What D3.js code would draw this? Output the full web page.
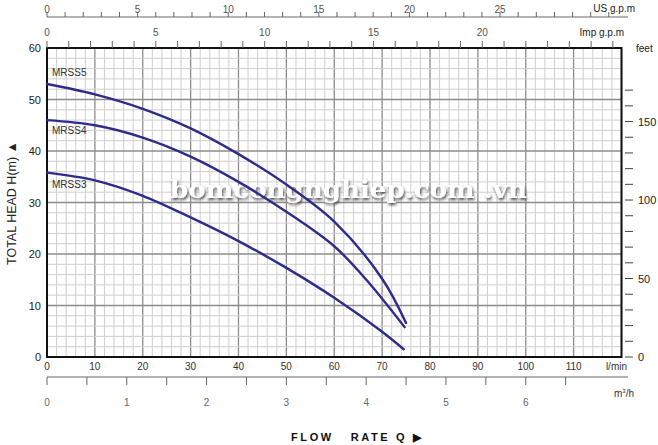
<!DOCTYPE html>
<html>
<head>
<meta charset="utf-8">
<script src="https://cdn.jsdelivr.net/npm/d3@7"></script>
<style>
  body { margin: 0; background: #fff; }
  svg { display: block; font-family: "Liberation Sans", Arial, sans-serif; }
</style>
</head>
<body>
<div class="graph"></div>
<script>
// pump curves, flow in l/min, head in m
var mrss5 = [[0,53],[10,51],[20,48.2],[30,44.4],[40,39.4],[50,33.5],[60,26.3],[70,15.2],[75,6.6]];
var mrss4 = [[0,46],[10,45],[20,42.6],[30,38.9],[40,34],[50,28.2],[60,21.5],[66.7,15],[74.7,5.8]];
var mrss3 = [[0,35.8],[10,34.3],[20,31.3],[30,27.1],[40,22.5],[50,17.3],[60,11.5],[70,4.9],[74.5,1.5]];
var seriesNames = ["MRSS5", "MRSS4", "MRSS3"];
var labelHeads = [54.5, 43.3, 32.8];

var lpmTicks = d3.range(0, 111, 10);
var headTicks = d3.range(0, 61, 10);
var feetTicks = d3.range(0, 171, 10);
var feetLabels = [0, 50, 100, 150];
var usTicks = d3.range(0, 32, 1);
var usLabels = [0, 5, 10, 15, 20, 25];
var impTicks = d3.range(0, 27, 1);
var impLabels = [0, 5, 10, 15, 20];
var m3hTicks = d3.range(0, 6.6, 0.5);
var m3hLabels = [0, 1, 2, 3, 4, 5, 6];

var W = 658, H = 445;
var plotL = 47, plotR = 621.5, plotT = 48, plotB = 357;

var x = d3.scaleLinear().domain([0, 120]).range([plotL, plotR]);
var y = d3.scaleLinear().domain([0, 60]).range([plotB, plotT]);
var yFeet = d3.scaleLinear().domain([0, 60 / 0.3048]).range([plotB, plotT]);
var xUS = d3.scaleLinear().domain([0, 120 / 3.78541]).range([plotL, plotR]);
var xImp = d3.scaleLinear().domain([0, 120 / 4.54609]).range([plotL, plotR]);
var xM3 = d3.scaleLinear().domain([0, 120 / 16.6667]).range([plotL, plotR]);

var svg = d3.select(".graph").append("svg")
    .attr("width", W)
    .attr("height", H);

var defs = svg.append("defs");
var shadow = defs.append("filter").attr("id", "shadow")
    .attr("x", "-10%").attr("y", "-40%").attr("width", "120%").attr("height", "180%");
shadow.append("feDropShadow")
    .attr("dx", 1).attr("dy", 2).attr("stdDeviation", 1.5)
    .attr("flood-color", "#444").attr("flood-opacity", 1);

// grid
var grid = svg.append("g");
grid.selectAll(".vgrid").data(d3.range(0, 121, 2)).enter().append("line")
    .attr("class", "vgrid")
    .attr("x1", d => x(d)).attr("x2", d => x(d))
    .attr("y1", plotT).attr("y2", plotB)
    .attr("stroke", d => d % 10 === 0 ? "#8c8c8c" : "#cfcfcf")
    .attr("stroke-width", d => d % 10 === 0 ? 1.3 : 1);
grid.selectAll(".hgrid").data(d3.range(0, 61, 2)).enter().append("line")
    .attr("class", "hgrid")
    .attr("y1", d => y(d)).attr("y2", d => y(d))
    .attr("x1", plotL).attr("x2", plotR)
    .attr("stroke", d => d % 10 === 0 ? "#8c8c8c" : "#cfcfcf")
    .attr("stroke-width", d => d % 10 === 0 ? 1.3 : 1);

svg.append("rect")
    .attr("x", plotL).attr("y", plotT)
    .attr("width", plotR - plotL).attr("height", plotB - plotT)
    .attr("fill", "none").attr("stroke", "#111").attr("stroke-width", 2);

// watermark
svg.append("text")
    .attr("x", 170).attr("y", 198)
    .attr("textLength", 357).attr("lengthAdjust", "spacingAndGlyphs")
    .attr("font-family", "'DejaVu Serif', 'Liberation Serif', serif")
    .attr("font-weight", "bold")
    .attr("font-size", 25)
    .attr("fill", "#fff")
    .attr("filter", "url(#shadow)")
    .text("bomcongnghiep.com .vn");

// curves
var line = d3.line()
    .x(d => x(d[0])).y(d => y(d[1]))
    .curve(d3.curveCatmullRom.alpha(0.5));

svg.selectAll(".curve").data([mrss5, mrss4, mrss3]).enter().append("path")
    .attr("class", "curve")
    .attr("d", line)
    .attr("fill", "none")
    .attr("stroke", "#2e2b8a")
    .attr("stroke-width", 2.4)
    .attr("stroke-linecap", "round");

svg.selectAll(".slabel").data(seriesNames).enter().append("text")
    .attr("class", "slabel")
    .attr("x", 52)
    .attr("y", (d, i) => y(labelHeads[i]))
    .attr("font-size", 10)
    .attr("fill", "#333")
    .text(d => d);

// left axis
svg.selectAll(".ylab").data(headTicks).enter().append("text")
    .attr("class", "ylab")
    .attr("x", 41).attr("y", d => y(d) + 4)
    .attr("text-anchor", "end")
    .attr("font-size", 11).attr("fill", "#222")
    .text(d => d);

svg.append("text")
    .attr("transform", "translate(16,203) rotate(-90)")
    .attr("text-anchor", "middle")
    .attr("font-size", 12.5).attr("fill", "#222")
    .text("TOTAL HEAD H(m) \u25B2");

// right feet axis
svg.selectAll(".ftick").data(feetTicks).enter().append("line")
    .attr("class", "ftick")
    .attr("x1", 625).attr("x2", 633)
    .attr("y1", d => yFeet(d)).attr("y2", d => yFeet(d))
    .attr("stroke", "#444").attr("stroke-width", 1);
svg.selectAll(".flab").data(feetLabels).enter().append("text")
    .attr("class", "flab")
    .attr("x", 638).attr("y", d => yFeet(d) + 4)
    .attr("font-size", 11).attr("fill", "#222")
    .text(d => d);
svg.append("text")
    .attr("x", 636).attr("y", 52)
    .attr("font-size", 10).attr("fill", "#222")
    .text("feet");

// bottom l/min labels
svg.selectAll(".xlab").data(lpmTicks).enter().append("text")
    .attr("class", "xlab")
    .attr("x", d => x(d)).attr("y", 370)
    .attr("text-anchor", "middle")
    .attr("font-size", 10).attr("fill", "#333")
    .text(d => d);
svg.append("text")
    .attr("x", 627).attr("y", 370)
    .attr("text-anchor", "end")
    .attr("font-size", 10).attr("fill", "#333")
    .text("l/min");

// m3/h axis
svg.append("line")
    .attr("x1", plotL).attr("x2", 628)
    .attr("y1", 377).attr("y2", 377)
    .attr("stroke", "#666");
svg.selectAll(".mtick").data(m3hTicks).enter().append("line")
    .attr("class", "mtick")
    .attr("x1", d => xM3(d)).attr("x2", d => xM3(d))
    .attr("y1", 377).attr("y2", 385)
    .attr("stroke", "#666");
svg.selectAll(".mlab").data(m3hLabels).enter().append("text")
    .attr("class", "mlab")
    .attr("x", d => xM3(d)).attr("y", 406)
    .attr("text-anchor", "middle")
    .attr("font-size", 10).attr("fill", "#666")
    .text(d => d);
svg.append("text")
    .attr("x", 634).attr("y", 397)
    .attr("text-anchor", "end")
    .attr("font-size", 10).attr("fill", "#333")
    .html("m<tspan dy='-4' font-size='6'>3</tspan><tspan dy='4'>/h</tspan>");

// US gpm axis
svg.append("line")
    .attr("x1", plotL).attr("x2", 628)
    .attr("y1", 17).attr("y2", 17)
    .attr("stroke", "#666");
svg.selectAll(".ustick").data(usTicks).enter().append("line")
    .attr("class", "ustick")
    .attr("x1", d => xUS(d)).attr("x2", d => xUS(d))
    .attr("y1", 12).attr("y2", 17)
    .attr("stroke", "#666");
svg.selectAll(".uslab").data(usLabels).enter().append("text")
    .attr("class", "uslab")
    .attr("x", d => xUS(d)).attr("y", 13)
    .attr("text-anchor", "middle")
    .attr("font-size", 10).attr("fill", "#555")
    .text(d => d);
svg.append("text")
    .attr("x", 635).attr("y", 12)
    .attr("text-anchor", "end")
    .attr("font-size", 10).attr("fill", "#222")
    .text("US g.p.m");

// Imp gpm axis
svg.selectAll(".imptick").data(impTicks).enter().append("line")
    .attr("class", "imptick")
    .attr("x1", d => xImp(d)).attr("x2", d => xImp(d))
    .attr("y1", 41).attr("y2", 48)
    .attr("stroke", "#666");
svg.selectAll(".implab").data(impLabels).enter().append("text")
    .attr("class", "implab")
    .attr("x", d => xImp(d)).attr("y", 36)
    .attr("text-anchor", "middle")
    .attr("font-size", 10).attr("fill", "#555")
    .text(d => d);
svg.append("text")
    .attr("x", 624).attr("y", 36)
    .attr("text-anchor", "end")
    .attr("font-size", 10).attr("fill", "#222")
    .text("Imp g.p.m");

// flow rate title
svg.append("text")
    .attr("x", 291).attr("y", 441)
    .attr("font-size", 11).attr("font-weight", "bold")
    .attr("letter-spacing", 2.6).attr("fill", "#111")
    .attr("xml:space", "preserve")
    .text("FLOW   RATE Q \u25B6");
</script>
</body>
</html>
